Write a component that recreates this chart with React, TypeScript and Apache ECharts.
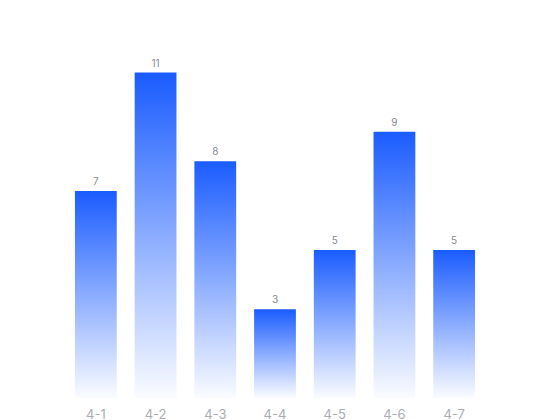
import React, { useEffect, useRef } from "react";
import * as echarts from "echarts";

const categories = ["4-1", "4-2", "4-3", "4-4", "4-5", "4-6", "4-7"];
const values = [7, 11, 8, 3, 5, 9, 5];

export default function App() {
  const ref = useRef<HTMLDivElement>(null);
  useEffect(() => {
    if (!ref.current) return;
    const chart = echarts.init(ref.current, undefined, { renderer: "svg" });
    chart.setOption({
      animation: false,
      grid: { left: 66, right: 66, top: 43, bottom: 22, containLabel: false },
      xAxis: {
        type: "category",
        data: categories,
        axisLine: { show: false },
        axisTick: { show: false },
        axisLabel: {
          color: "#a9acb4",
          fontSize: 13,
          margin: 9,
          fontFamily: "Inter, 'Noto Sans', sans-serif",
        },
      },
      yAxis: {
        type: "value",
        min: 0,
        max: 12,
        show: false,
        splitLine: { show: false },
      },
      series: [
        {
          type: "bar",
          data: values,
          barWidth: "70%",
          itemStyle: {
            color: new echarts.graphic.LinearGradient(0, 0, 0, 1, [
              { offset: 0, color: "#1a5cff" },
              { offset: 1, color: "rgba(26,92,255,0.02)" },
            ]),
          },
          label: {
            show: true,
            position: "top",
            color: "#858a94",
            fontSize: 10,
            distance: 5,
            fontFamily: "Inter, 'Noto Sans', sans-serif",
          },
        },
      ],
    });
    return () => chart.dispose();
  }, []);
  return <div ref={ref} style={{ width: 550, height: 420, position: "absolute", left: 0, top: 0 }} />;
}
